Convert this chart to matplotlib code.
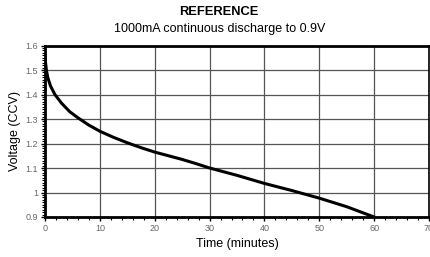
import matplotlib
matplotlib.use("Agg")
import matplotlib.pyplot as plt
import numpy as np

time_min = [0, 0.1, 0.25, 0.5, 1, 1.8, 3, 4.5, 6, 8, 10, 12.5, 15, 17.5, 20, 22.5, 25,
            27.5, 30, 35, 40, 45, 50, 55, 60]
voltage = [1.57, 1.53, 1.50, 1.47, 1.435, 1.40, 1.365, 1.33, 1.305, 1.275, 1.25, 1.225,
           1.203, 1.183, 1.165, 1.150, 1.135, 1.118, 1.10, 1.07, 1.037, 1.008, 0.977,
           0.942, 0.90]
x_ticks = [0, 10, 20, 30, 40, 50, 60, 70]
y_ticks = [0.9, 1.0, 1.1, 1.2, 1.3, 1.4, 1.5, 1.6]
y_tick_labels = ["0.9", "1", "1.1", "1.2", "1.3", "1.4", "1.5", "1.6"]

plt.rcParams['font.family'] = ['Liberation Sans', 'DejaVu Sans']

fig = plt.figure(figsize=(4.3, 2.57), dpi=100)
ax = fig.add_axes([45/430, 40/257, 384/430, 171.5/257])

ax.plot(time_min, voltage, color='black', lw=2.2, solid_joinstyle='round', zorder=3)

ax.set_xlim(0, 70)
ax.set_ylim(0.9, 1.6)
ax.set_xticks(x_ticks)
ax.set_yticks(y_ticks)
ax.set_yticklabels(y_tick_labels)
ax.set_xticks(np.arange(0, 70.1, 2), minor=True)
ax.set_yticks(np.arange(0.9, 1.6001, 0.01), minor=True)
ax.grid(True, which='major', color='#555555', lw=0.9)
ax.tick_params(axis='both', which='major', labelsize=6.5, labelcolor='#666666', length=3,
               width=1, direction='out', pad=2)
ax.tick_params(axis='both', which='minor', length=2, width=0.8, direction='out')

for side in ['top', 'left', 'bottom']:
    ax.spines[side].set_linewidth(2)
ax.spines['right'].set_linewidth(1.2)

ax.set_xlabel("Time (minutes)", fontsize=9, labelpad=4)
ax.set_ylabel("Voltage (CCV)", fontsize=9, labelpad=3)

fig.text(0.51, 0.955, "REFERENCE", ha='center', va='center', fontsize=9.3, fontweight='bold')
fig.text(0.51, 0.888, "1000mA continuous discharge to 0.9V", ha='center', va='center', fontsize=9)

fig.savefig("out.png", dpi=100)
